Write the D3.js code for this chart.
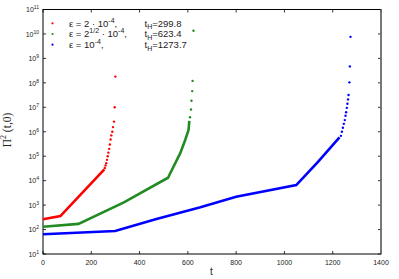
<!DOCTYPE html>
<html>
<head>
<meta charset="utf-8">
<script src="https://cdn.jsdelivr.net/npm/d3@7"></script>
<style>
body { margin: 0; background: #fff; }
text { font-family: "Liberation Sans", Arial, sans-serif; }
</style>
</head>
<body>
<svg id="container"></svg>
<script>
// series: solid part (dense points) and sparse dots near blow-up
const redLineT = [0, 72, 254];
const redLineV = [262, 357, 2.9e4];
const redDotT = [256, 259, 262, 265, 268, 271, 274, 277, 280, 283, 287, 290, 294, 297, 299.8];
const redDotV = [3.3e4, 4.2e4, 5.2e4, 7.1e4, 1.0e5, 1.4e5, 2.0e5, 3.0e5, 4.8e5, 7.1e5, 1.0e6, 1.55e6, 2.6e6, 1.0e7, 1.8e8];

const greenLineT = [0, 147, 335, 518, 527, 568, 589, 603, 606];
const greenLineV = [131, 170, 1.3e3, 1.32e4, 2.0e4, 1.3e5, 4.6e5, 1.2e6, 2.8e6];
const greenDotT = [609, 613, 615, 618, 619.6, 623.4];
const greenDotV = [3.9e6, 8.1e6, 1.86e7, 4.6e7, 1.2e8, 1.35e10];

const blueLineT = [0, 299, 470, 652, 800, 1049, 1139, 1228];
const blueLineV = [64, 87, 270, 810, 2.2e3, 6.6e3, 5.9e4, 5.9e5];
const blueDotT = [1234, 1238, 1242, 1246, 1250, 1253, 1255.5, 1258.5, 1261, 1263.5, 1265.5, 1269, 1271, 1273.7];
const blueDotV = [6.8e5, 1.0e6, 1.45e6, 2.1e6, 3.0e6, 4.5e6, 6.3e6, 9.5e6, 1.4e7, 2.1e7, 3.2e7, 1.05e8, 4.7e8, 7.6e9];

const xTicks = [0, 200, 400, 600, 800, 1000, 1200, 1400];
const yExps = [1, 2, 3, 4, 5, 6, 7, 8, 9, 10, 11];

const legendEps = [["2 · 10", "-4", ""], ["2", "1/2", " · 10"], ["10", "-4", ""]];
const legendTH = ["299.8", "623.4", "1273.7"];

function main() {
	const W = 399, H = 279;
	const margin = { top: 9.5, right: 18, bottom: 25, left: 43 };
	const w = W - margin.left - margin.right,
		h = H - margin.top - margin.bottom;

	var svg = d3.select("#container").attr("width", W).attr("height", H);
	var g = svg.append("g").attr("transform", "translate(" + margin.left + "," + margin.top + ")");

	var xScale = d3.scaleLinear().domain([0, 1400]).range([0, w]);
	var yScale = d3.scaleLog().domain([10, 1e11]).range([h, 0]);

	// ticks, inward on all four sides
	const tl = 3;
	xTicks.forEach(t => {
		g.append("line").attr("x1", xScale(t)).attr("x2", xScale(t)).attr("y1", h).attr("y2", h - tl).attr("stroke", "#000").attr("stroke-width", 0.8);
		g.append("line").attr("x1", xScale(t)).attr("x2", xScale(t)).attr("y1", 0).attr("y2", tl).attr("stroke", "#000").attr("stroke-width", 0.8);
		g.append("text").attr("x", xScale(t)).attr("y", h + 10.5)
			.attr("text-anchor", "middle").attr("font-size", 7).attr("fill", "#222").text(t);
	});
	yExps.forEach(e => {
		const y = yScale(Math.pow(10, e));
		g.append("line").attr("x1", 0).attr("x2", tl).attr("y1", y).attr("y2", y).attr("stroke", "#000").attr("stroke-width", 0.8);
		g.append("line").attr("x1", w).attr("x2", w - tl).attr("y1", y).attr("y2", y).attr("stroke", "#000").attr("stroke-width", 0.8);
		const lab = g.append("text").attr("x", -4).attr("y", y + 2.8)
			.attr("text-anchor", "end").attr("font-size", 7).attr("fill", "#222");
		lab.append("tspan").text("10");
		lab.append("tspan").attr("dy", -3).attr("font-size", 5).text(e);
	});

	// frame
	g.append("rect").attr("width", w).attr("height", h)
		.attr("fill", "none").attr("stroke", "#000").attr("stroke-width", 1);
	g.append("line").attr("x1", w).attr("x2", w).attr("y1", 0).attr("y2", h)
		.attr("stroke", "#777").attr("stroke-width", 1.6);

	const line = d3.line().x(d => xScale(d[0])).y(d => yScale(d[1]));
	const series = [
		{ c: "#ff0000", lt: redLineT, lv: redLineV, dt: redDotT, dv: redDotV },
		{ c: "#228b22", lt: greenLineT, lv: greenLineV, dt: greenDotT, dv: greenDotV },
		{ c: "#0000ff", lt: blueLineT, lv: blueLineV, dt: blueDotT, dv: blueDotV }
	];
	series.forEach(s => {
		g.append("path").datum(s.lt.map((t, i) => [t, s.lv[i]]))
			.attr("d", line).attr("fill", "none").attr("stroke", s.c).attr("stroke-width", 2.6);
		g.selectAll(null).data(s.dt.map((t, i) => [t, s.dv[i]])).enter()
			.append("circle")
			.attr("cx", d => xScale(d[0])).attr("cy", d => yScale(d[1]))
			.attr("r", 1.2).attr("fill", s.c);
	});

	// legend
	series.forEach((s, i) => {
		const y = 23.3 + i * 10.7;
		svg.append("circle").attr("cx", 52.5).attr("cy", y).attr("r", 1.1).attr("fill", s.c);
		const t = svg.append("text").attr("x", 69).attr("y", y + 3.3).attr("font-size", 9.5).attr("fill", "#222");
		t.append("tspan").text("ε = " + legendEps[i][0]);
		t.append("tspan").attr("dy", -4).attr("font-size", 7).text(legendEps[i][1]);
		if (legendEps[i][2]) {
			t.append("tspan").attr("dy", 4).text(legendEps[i][2]);
			t.append("tspan").attr("dy", -4).attr("font-size", 7).text("-4");
		}
		t.append("tspan").attr("dy", 4).text(",");
		const th = svg.append("text").attr("x", 144.5).attr("y", y + 3.3).attr("font-size", 9.5).attr("fill", "#222");
		th.append("tspan").text("t");
		th.append("tspan").attr("dy", 2.5).attr("font-size", 7).text("H");
		th.append("tspan").attr("dy", -2.5).text("=" + legendTH[i]);
	});

	// axis labels
	svg.append("text").attr("x", margin.left + w / 2 - 0.5).attr("y", 275)
		.attr("text-anchor", "middle").attr("font-size", 10).attr("fill", "#222").text("t");
	const yl = svg.append("text").attr("transform", "translate(10.5,130) rotate(-90)")
		.attr("text-anchor", "middle").attr("font-size", 11.5).attr("fill", "#222")
		.style("font-family", "'Liberation Serif', serif");
	yl.append("tspan").text("Π");
	yl.append("tspan").attr("dy", -4.5).attr("font-size", 8).text("2");
	yl.append("tspan").attr("dy", 4.5).text(" (t,0)");
}

main();
</script>
</body>
</html>
